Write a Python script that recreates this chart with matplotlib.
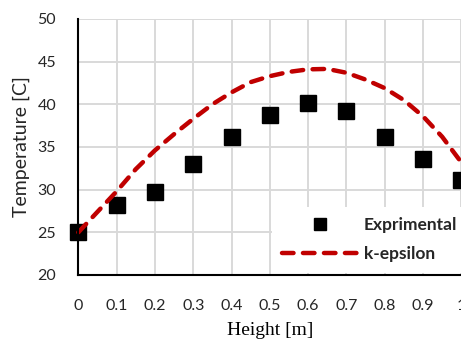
import matplotlib.pyplot as plt

# measured points
height_exp = [0, 0.1, 0.2, 0.3, 0.4, 0.5, 0.6, 0.7, 0.8, 0.9, 1.0]
temp_exp = [25.0, 28.2, 29.7, 33.0, 36.2, 38.7, 40.2, 39.2, 36.2, 33.6, 31.1]

# k-epsilon model curve
height_ke = [0, 0.05, 0.1, 0.15, 0.2, 0.25, 0.3, 0.35, 0.4, 0.45, 0.5,
             0.55, 0.6, 0.65, 0.7, 0.75, 0.8, 0.85, 0.9, 0.95, 1.0]
temp_ke = [25.0, 27.4, 29.8, 32.4, 34.6, 36.5, 38.3, 40.0, 41.4, 42.6, 43.3,
           43.8, 44.1, 44.15, 43.7, 42.9, 41.9, 40.5, 38.6, 36.2, 33.2]

x_ticks = [0, 0.1, 0.2, 0.3, 0.4, 0.5, 0.6, 0.7, 0.8, 0.9, 1.0]
x_tick_labels = ['0', '0.1', '0.2', '0.3', '0.4', '0.5', '0.6', '0.7', '0.8', '0.9', '1']
y_ticks = [20, 25, 30, 35, 40, 45, 50]

plt.rcParams['font.family'] = ['Lato', 'DejaVu Sans']
plt.rcParams['lines.scale_dashes'] = False

fig = plt.figure(figsize=(4.61, 3.40), dpi=100)
ax = fig.add_axes([78.3 / 461, 1 - 275 / 340, (461.3 - 78.3) / 461, (275 - 19) / 340])

ax.plot(height_exp, temp_exp, 's', color='black', markersize=11.5,
        label='Exprimental', clip_on=False, zorder=3)
ax.plot(height_ke, temp_ke, color='#c00000', lw=3.2, dashes=(8.3, 6.8),
        dash_capstyle='round', label='k-epsilon', clip_on=False, zorder=4)

ax.set_xlim(0, 1)
ax.set_ylim(20, 50)
ax.set_xticks(x_ticks)
ax.set_xticklabels(x_tick_labels)
ax.set_yticks(y_ticks)
ax.tick_params(length=0, labelsize=11.5, colors='#262626')
ax.tick_params(axis='x', pad=17)
ax.tick_params(axis='y', pad=16)

ax.grid(color='#d9d9d9', lw=1.4)
ax.set_axisbelow(True)
for s in ['top', 'right']:
    ax.spines[s].set_visible(False)
for s in ['left', 'bottom']:
    ax.spines[s].set_linewidth(1.5)
    ax.spines[s].set_zorder(5)

ax.set_ylabel('Temperature [C]', fontsize=14, color='#262626', labelpad=5)
ax.set_xlabel('Height [m]', fontsize=14, family='Liberation Serif', labelpad=7)

leg = ax.legend(loc='upper left', bbox_to_anchor=(272 / 461, 1 - 207 / 340),
                bbox_transform=fig.transFigure, borderaxespad=0, borderpad=0.6,
                handlelength=4.3, handletextpad=0.4, labelspacing=0.75,
                markerscale=0.7,
                prop={'weight': 'bold', 'size': 12.5}, fancybox=False,
                framealpha=1, facecolor='white', edgecolor='none')
for t in leg.get_texts():
    t.set_color('#262626')

plt.savefig('out.png', dpi=100)
